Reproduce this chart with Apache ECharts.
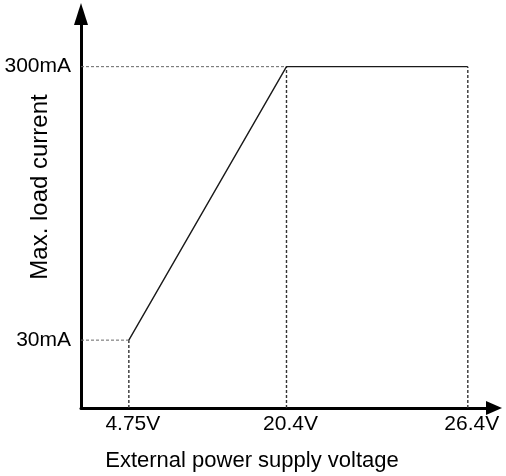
<!DOCTYPE html>
<html>
<head>
<meta charset="utf-8">
<title>Max. load current vs. external power supply voltage</title>
<script src="https://cdn.jsdelivr.net/npm/echarts@6/dist/echarts.min.js"></script>
<style>
  html, body { margin: 0; padding: 0; background: #fff; }
  #chart { width: 506px; height: 476px; }
</style>
</head>
<body>
<div id="chart"></div>
<script>
// Tick labels on each axis
const voltageTicks = [4.75, 20.4, 26.4];   // V
const currentTicks = [30, 300];            // mA

// Derating curve: max. load current against supply voltage
const curveVoltage = [4.75, 20.4, 26.4];   // V
const curveCurrent = [30, 300, 300];       // mA

// The span above the knee voltage is drawn stretched so the flat part reads clearly.
const KNEE_V = 20.4;
const STRETCH = 3;
const xs = v => (v <= KNEE_V ? v : KNEE_V + (v - KNEE_V) * STRETCH);

const X_MAX = 41;
const Y_MIN = -37;   // axis starts below zero so the 30 mA level sits clear of the x axis
const Y_MAX = 352;

const FONT = "'Liberation Sans', Arial, Helvetica, sans-serif";

const curve = curveVoltage.map((v, i) => [xs(v), curveCurrent[i]]);

// Dashed guides: from each current tick across to the curve, and from the curve down to each voltage tick
const hGuides = currentTicks.map(c => {
  const i = curveCurrent.indexOf(c);
  return [[0, c], [xs(curveVoltage[i]), c]];
});
const vGuides = voltageTicks.map(v => {
  const i = curveVoltage.indexOf(v);
  return [[xs(v), Y_MIN], [xs(v), curveCurrent[i]]];
});

const guideSeries = (pts, color, width) => ({
  type: 'line',
  data: pts,
  showSymbol: false,
  silent: true,
  animation: false,
  lineStyle: { color: color, width: width, type: [3, 2] },
  z: 1
});

const chart = echarts.init(document.getElementById('chart'), null, { renderer: 'canvas' });

chart.setOption({
  backgroundColor: '#ffffff',
  animation: false,
  grid: { left: 81, right: 12, top: 14, bottom: 68 },
  xAxis: {
    type: 'value',
    min: 0,
    max: X_MAX,
    axisLine: {
      onZero: false,
      lineStyle: { color: '#000', width: 3 },
      symbol: ['none', 'triangle'],
      symbolSize: [14, 16]
    },
    axisTick: { show: false },
    splitLine: { show: false },
    axisLabel: {
      customValues: voltageTicks.map(xs),
      formatter: val => {
        const v = voltageTicks.find(t => Math.abs(xs(t) - val) < 1e-6);
        return v + 'V';
      },
      margin: 6,
      padding: [0, 0, 0, 8],
      color: '#000',
      fontSize: 21,
      fontFamily: FONT
    }
  },
  yAxis: {
    type: 'value',
    min: Y_MIN,
    max: Y_MAX,
    axisLine: {
      show: true,
      onZero: false,
      lineStyle: { color: '#000', width: 3 },
      symbol: ['none', 'triangle'],
      symbolSize: [14, 22]
    },
    axisTick: { show: false },
    splitLine: { show: false },
    axisLabel: {
      customValues: currentTicks,
      formatter: val => val + 'mA',
      margin: 10,
      color: '#000',
      fontSize: 21,
      fontFamily: FONT
    }
  },
  graphic: [
    {
      type: 'text',
      x: 252,
      y: 461,
      style: {
        text: 'External power supply voltage',
        fill: '#000',
        font: '22px ' + FONT,
        textAlign: 'center',
        textVerticalAlign: 'middle'
      }
    },
    {
      type: 'text',
      x: 40,
      y: 187,
      rotation: Math.PI / 2,
      style: {
        text: 'Max. load current',
        fill: '#000',
        font: '24px ' + FONT,
        textAlign: 'center',
        textVerticalAlign: 'middle'
      }
    }
  ],
  series: [
    ...hGuides.map(p => guideSeries(p, '#666', 1)),
    ...vGuides.map(p => guideSeries(p, '#333', 1.4)),
    {
      type: 'line',
      name: 'Max. load current',
      data: curve,
      showSymbol: false,
      silent: true,
      lineStyle: { color: '#1a1a1a', width: 1.4 },
      z: 3
    }
  ]
});
</script>
</body>
</html>
